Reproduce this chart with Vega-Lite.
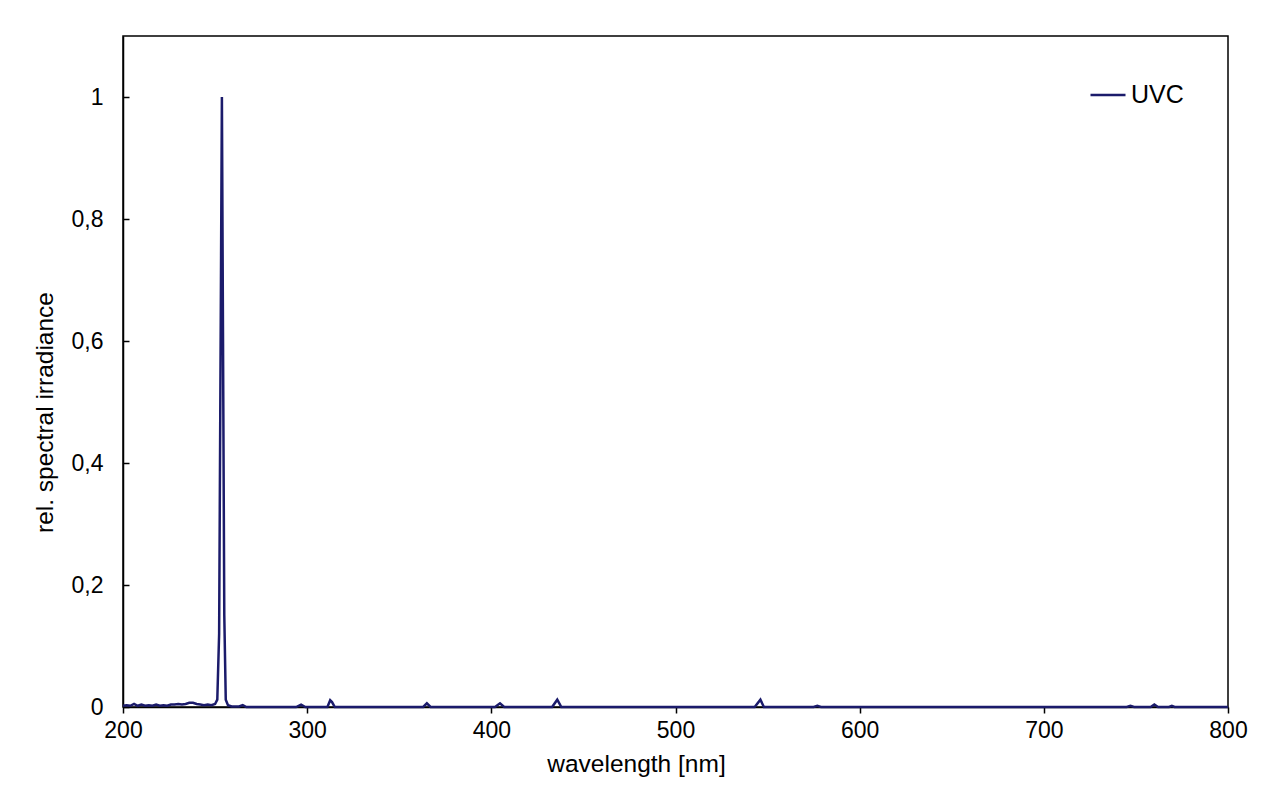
{
  "$schema": "https://vega.github.io/schema/vega-lite/v6.json",
  "width": 1105,
  "height": 671,
  "autosize": {"type": "none"},
  "padding": {"left": 123, "top": 36, "right": 52, "bottom": 86},
  "background": "white",
  "config": {
    "font": "Liberation Sans",
    "view": {"stroke": "#000000", "strokeWidth": 1.5},
    "axis": {"grid": false, "domainColor": "#000000", "tickColor": "#000000", "labelColor": "#000000", "titleColor": "#000000", "labelFontSize": 23, "titleFontSize": 24.5, "titleFontWeight": "normal", "domainWidth": 1.5, "tickWidth": 1.5, "labelFlush": false, "labelOverlap": false}
  },
  "data": {
    "values": [
      {"wl": 200, "irr": 0.002, "s": "UVC"},
      {"wl": 202, "irr": 0.003, "s": "UVC"},
      {"wl": 204, "irr": 0.002, "s": "UVC"},
      {"wl": 206, "irr": 0.005, "s": "UVC"},
      {"wl": 208, "irr": 0.002, "s": "UVC"},
      {"wl": 210, "irr": 0.004, "s": "UVC"},
      {"wl": 212, "irr": 0.002, "s": "UVC"},
      {"wl": 214, "irr": 0.003, "s": "UVC"},
      {"wl": 216, "irr": 0.002, "s": "UVC"},
      {"wl": 218, "irr": 0.004, "s": "UVC"},
      {"wl": 220, "irr": 0.002, "s": "UVC"},
      {"wl": 222, "irr": 0.003, "s": "UVC"},
      {"wl": 224, "irr": 0.002, "s": "UVC"},
      {"wl": 226, "irr": 0.004, "s": "UVC"},
      {"wl": 228, "irr": 0.004, "s": "UVC"},
      {"wl": 230, "irr": 0.005, "s": "UVC"},
      {"wl": 232, "irr": 0.004, "s": "UVC"},
      {"wl": 234, "irr": 0.005, "s": "UVC"},
      {"wl": 236, "irr": 0.007, "s": "UVC"},
      {"wl": 238, "irr": 0.007, "s": "UVC"},
      {"wl": 240, "irr": 0.005, "s": "UVC"},
      {"wl": 242, "irr": 0.004, "s": "UVC"},
      {"wl": 244, "irr": 0.003, "s": "UVC"},
      {"wl": 246, "irr": 0.004, "s": "UVC"},
      {"wl": 248, "irr": 0.003, "s": "UVC"},
      {"wl": 250, "irr": 0.005, "s": "UVC"},
      {"wl": 251.2, "irr": 0.012, "s": "UVC"},
      {"wl": 252.2, "irr": 0.12, "s": "UVC"},
      {"wl": 253.7, "irr": 1.0, "s": "UVC"},
      {"wl": 255.0, "irr": 0.15, "s": "UVC"},
      {"wl": 255.8, "irr": 0.012, "s": "UVC"},
      {"wl": 257, "irr": 0.003, "s": "UVC"},
      {"wl": 259, "irr": 0.001, "s": "UVC"},
      {"wl": 263, "irr": 0.001, "s": "UVC"},
      {"wl": 265, "irr": 0.003, "s": "UVC"},
      {"wl": 267, "irr": 0.0, "s": "UVC"},
      {"wl": 294, "irr": 0.0, "s": "UVC"},
      {"wl": 296.7, "irr": 0.004, "s": "UVC"},
      {"wl": 299, "irr": 0.0, "s": "UVC"},
      {"wl": 311, "irr": 0.0, "s": "UVC"},
      {"wl": 312.5, "irr": 0.011, "s": "UVC"},
      {"wl": 313.5, "irr": 0.008, "s": "UVC"},
      {"wl": 315, "irr": 0.0, "s": "UVC"},
      {"wl": 363, "irr": 0.0, "s": "UVC"},
      {"wl": 365, "irr": 0.006, "s": "UVC"},
      {"wl": 367, "irr": 0.0, "s": "UVC"},
      {"wl": 402, "irr": 0.0, "s": "UVC"},
      {"wl": 404.7, "irr": 0.006, "s": "UVC"},
      {"wl": 407, "irr": 0.0, "s": "UVC"},
      {"wl": 433, "irr": 0.0, "s": "UVC"},
      {"wl": 435.8, "irr": 0.012, "s": "UVC"},
      {"wl": 438, "irr": 0.0, "s": "UVC"},
      {"wl": 543, "irr": 0.0, "s": "UVC"},
      {"wl": 546.1, "irr": 0.012, "s": "UVC"},
      {"wl": 548, "irr": 0.0, "s": "UVC"},
      {"wl": 575, "irr": 0.0, "s": "UVC"},
      {"wl": 577, "irr": 0.002, "s": "UVC"},
      {"wl": 579, "irr": 0.0, "s": "UVC"},
      {"wl": 745, "irr": 0.0, "s": "UVC"},
      {"wl": 747, "irr": 0.002, "s": "UVC"},
      {"wl": 749, "irr": 0.0, "s": "UVC"},
      {"wl": 758, "irr": 0.0, "s": "UVC"},
      {"wl": 760, "irr": 0.004, "s": "UVC"},
      {"wl": 762, "irr": 0.0, "s": "UVC"},
      {"wl": 768, "irr": 0.0, "s": "UVC"},
      {"wl": 769.5, "irr": 0.002, "s": "UVC"},
      {"wl": 771, "irr": 0.0, "s": "UVC"},
      {"wl": 800, "irr": 0.0, "s": "UVC"}
    ]
  },
  "mark": {"type": "line", "strokeWidth": 2.5, "interpolate": "linear"},
  "encoding": {
    "x": {
      "field": "wl",
      "type": "quantitative",
      "title": "wavelength [nm]",
      "scale": {"domain": [200, 800], "nice": false, "zero": false},
      "axis": {"values": [200, 300, 400, 500, 600, 700, 800], "tickSize": 6, "labelPadding": 6, "titlePadding": 10, "titleX": 513, "format": "d"}
    },
    "y": {
      "field": "irr",
      "type": "quantitative",
      "title": "rel. spectral irradiance",
      "scale": {"domain": [0, 1.1], "nice": false},
      "axis": {"values": [0, 0.2, 0.4, 0.6, 0.8, 1], "tickSize": -6, "labelPadding": 26, "titlePadding": 14, "titleY": 376, "labelExpr": "replace(format(datum.value, '~g'), '.', ',')"}
    },
    "color": {
      "field": "s",
      "type": "nominal",
      "title": null,
      "scale": {"range": ["#1b1b6b"]},
      "legend": {"orient": "none", "legendX": 966, "legendY": 40, "symbolType": "stroke", "symbolSize": 1225, "symbolStrokeWidth": 2.5, "labelFontSize": 25, "labelColor": "#000000", "labelOffset": 4}
    }
  }
}
